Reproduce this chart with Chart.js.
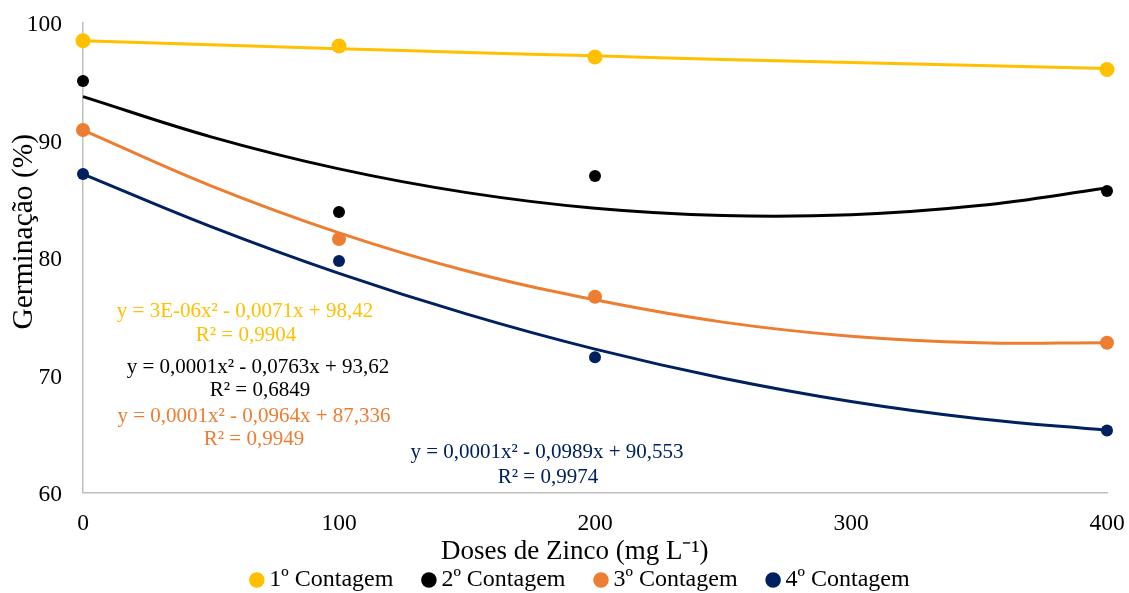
<!DOCTYPE html>
<html><head><meta charset="utf-8">
<script src="https://cdn.jsdelivr.net/npm/chart.js@4/dist/chart.umd.min.js"></script>
<style>html,body{margin:0;padding:0;background:#fff}#wrap{width:1129px;height:593px;position:relative}</style>
</head><body><div id="wrap"><canvas id="c"></canvas></div>
<script>
// ---- data ----
const doses = [0, 100, 200, 400];
const contagem1 = [98.45, 98.0, 97.06, 96.0];
const contagem2 = [95.02, 83.87, 86.94, 85.66];
const contagem3 = [90.85, 81.57, 76.66, 72.75];
const contagem4 = [87.1, 79.7, 71.51, 65.28];

const trendX = [0, 50, 100, 150, 200, 250, 300, 350, 400];
const trend1 = [98.45, 98.10, 97.77, 97.45, 97.16, 96.86, 96.59, 96.33, 96.09];
const trend2 = [93.69, 90.27, 87.54, 85.52, 84.19, 83.57, 83.64, 84.42, 85.91];
const trend3 = [90.85, 86.10, 82.10, 78.85, 76.40, 74.50, 73.30, 72.75, 72.75];
const trend4 = [87.10, 82.63, 78.65, 75.18, 72.20, 69.73, 67.75, 66.28, 65.30];

const seriesNames = ['1º Contagem', '2º Contagem', '3º Contagem', '4º Contagem'];
const colors = ['#FFC000', '#000000', '#ED7D31', '#002060'];
const xTicks = [0, 100, 200, 300, 400];
const yTicks = [60, 70, 80, 90, 100];
const equations = [
  ['y = 3E-06x² - 0,0071x + 98,42', 'R² = 0,9904'],
  ['y = 0,0001x² - 0,0763x + 93,62', 'R² = 0,6849'],
  ['y = 0,0001x² - 0,0964x + 87,336', 'R² = 0,9949'],
  ['y = 0,0001x² - 0,0989x + 90,553', 'R² = 0,9974']
];
const xTitle = 'Doses de Zinco (mg L⁻¹)';
const yTitle = 'Germinação (%)';

// ---- build chart ----
const FONT = "'Liberation Serif', 'Times New Roman', serif";
const pts = (ys, xs) => ys.map((y, i) => ({x: xs[i], y}));
const pointRadii = [7.5, 6, 7, 6];
const pointSeries = [contagem1, contagem2, contagem3, contagem4];
const trendSeries = [trend1, trend2, trend3, trend4];

const datasets = [];
pointSeries.forEach((s, i) => datasets.push({
  label: seriesNames[i] + (i === 3 ? '    ' : ''),
  data: pts(s, doses),
  showLine: false,
  backgroundColor: colors[i],
  borderColor: colors[i],
  borderWidth: 0,
  pointRadius: pointRadii[i],
  pointBorderWidth: 0,
  pointStyle: 'circle',
  order: 0,
  clip: false
}));
trendSeries.forEach((s, i) => datasets.push({
  label: 'trend' + i,
  data: pts(s, trendX),
  showLine: true,
  borderColor: colors[i],
  backgroundColor: colors[i],
  borderWidth: 3,
  pointRadius: 0,
  tension: 0.4,
  fill: false,
  order: 1,
  clip: false
}));

const eqPos = [
  {x: 245, y: 311.5, x2: 246, y2: 335},
  {x: 258, y: 367, x2: 260, y2: 390},
  {x: 254, y: 416, x2: 254, y2: 439},
  {x: 547, y: 452, x2: 548, y2: 477}
];
const eqPlugin = {
  id: 'eq',
  afterDraw(chart) {
    const ctx = chart.ctx;
    ctx.save();
    ctx.font = '21px ' + FONT;
    ctx.textAlign = 'center';
    ctx.textBaseline = 'middle';
    equations.forEach((e, i) => {
      ctx.fillStyle = colors[i];
      ctx.fillText(e[0], eqPos[i].x, eqPos[i].y);
      ctx.fillText(e[1], eqPos[i].x2, eqPos[i].y2);
    });
    ctx.restore();
  }
};

new Chart(document.getElementById('c'), {
  type: 'scatter',
  data: {datasets},
  plugins: [eqPlugin],
  options: {
    responsive: true,
    maintainAspectRatio: false,
    animation: false,
    layout: {autoPadding: false, padding: {left: 0, right: 22, top: 22.5, bottom: 0}},
    plugins: {
      tooltip: {enabled: false},
      legend: {
        position: 'bottom',
        fullSize: false,
        maxHeight: 60,
        labels: {
          filter: (item) => item.datasetIndex < 4,
          usePointStyle: true,
          pointStyle: 'circle',
          boxWidth: 1,
          boxHeight: 11,
          padding: 35,
          color: '#000',
          font: {family: FONT, size: 24}
        }
      }
    },
    scales: {
      x: {
        type: 'linear',
        min: 0, max: 400,
        afterBuildTicks: s => { s.ticks = xTicks.map(v => ({value: v})); },
        afterFit: s => { s.height = 40.5; s.paddingLeft = 0; s.paddingRight = 0; },
        grid: {display: false, drawTicks: false},
        border: {display: true, color: '#BFBFBF', width: 1.5},
        ticks: {color: '#000', padding: 17, font: {family: FONT, size: 23.5}},
        title: {display: true, text: xTitle + '      ', color: '#000',
          font: {family: FONT, size: 27, lineHeight: 1.1}, padding: {top: 0, bottom: -33.4}}
      },
      y: {
        type: 'linear',
        min: 60, max: 100,
        afterBuildTicks: s => { s.ticks = yTicks.map(v => ({value: v})); },
        afterFit: s => { s.width = 83; s.paddingTop = 0; s.paddingBottom = 0; },
        grid: {display: false, drawTicks: false},
        border: {display: true, color: '#BFBFBF', width: 1.5},
        ticks: {color: '#000', padding: 21, labelOffset: 2.5, font: {family: FONT, size: 23.5}},
        title: {display: true, text: '       ' + yTitle, color: '#000',
          font: {family: FONT, size: 29.5, lineHeight: 1.1}, padding: {top: 8, bottom: 0}}
      }
    }
  }
});
</script>
</body></html>
